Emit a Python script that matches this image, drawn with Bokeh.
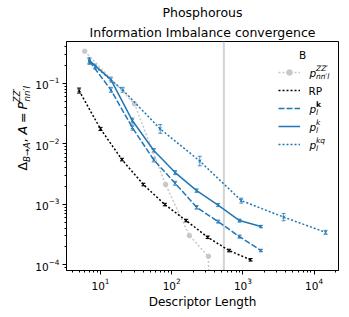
import math
from bokeh.plotting import figure
from bokeh.layouts import row
from bokeh.models import (Range1d, Span, Whisker, TeeHead, ColumnDataSource, Legend,
                          LegendItem, Label, Title, FixedTicker)
from bokeh.embed import file_html
from bokeh.resources import INLINE

# ---------------- data ----------------
zz_x = [6, 30, 82, 177, 328, 340]
zz_y = [0.338, 0.0457, 0.00212, 0.000304, 0.000138, 1e-6]

rp_x = [5, 10, 20, 40, 80, 160, 320, 640, 1280]
rp_y = [0.0757, 0.0176, 0.00548, 0.00212, 0.00099, 0.000538, 0.000285, 0.000172, 0.000121]
rp_err = [0.10, 0.06, 0.05, 0.05, 0.05, 0.05, 0.05, 0.05, 0.05]

pk_x = [7, 14, 28, 56, 112, 224, 448, 896, 1792]
pkb_y = [0.230, 0.0778, 0.0185, 0.00542, 0.00222, 0.00089, 0.000518, 0.000292, 0.000172]
pkb_err = [0.12, 0.10, 0.10, 0.08, 0.08, 0.07, 0.06, 0.06, 0.05]
pk_y = [0.237, 0.115, 0.0242, 0.00773, 0.00334, 0.00168, 0.00097, 0.000538, 0.000428]
pk_err = [0.12, 0.10, 0.10, 0.08, 0.08, 0.07, 0.06, 0.06, 0.05]

kq_x = [8.4, 20.5, 69, 248, 950, 3730, 14500]
kq_y = [0.189, 0.0778, 0.0176, 0.00518, 0.00115, 0.000614, 0.000344]
kq_err = [0.10, 0.10, 0.18, 0.20, 0.10, 0.15, 0.08]

cutoff = 540

x_major = [10, 100, 1000, 10000]
y_major = [1e-4, 1e-3, 1e-2, 1e-1]

BLUE = "#1f77b4"
GRAY = "#c8c8c8"
FONT = "DejaVu Sans"
DOT = "2 2"
DASH = "6 2"

WL = 32  # width of the strip holding the y-axis label
p = figure(width=349 - WL, height=317, x_axis_type="log", y_axis_type="log",
           x_range=Range1d(3.33, 22000), y_range=Range1d(8.05e-5, 0.49),
           output_backend="svg", toolbar_location=None, title=None,
           min_border_left=64 - WL, min_border_right=11, min_border_top=41, min_border_bottom=47)
p.xgrid.visible = False
p.ygrid.visible = False
p.outline_line_color = "black"
p.outline_line_width = 1
p.outline_line_alpha = 1

for t in ["Information Imbalance convergence", "Phosphorous"]:
    p.add_layout(Title(text=t, align="center", text_font=FONT, text_font_size="12.5px",
                       text_font_style="normal", text_color="black", standoff=3), "above")

x_minor = [m * 10 ** e for e in range(0, 5) for m in range(2, 10)]
y_minor = [m * 10 ** e for e in range(-5, 0) for m in range(2, 10)]
p.xaxis.ticker = FixedTicker(ticks=x_major, minor_ticks=x_minor)
p.yaxis.ticker = FixedTicker(ticks=y_major, minor_ticks=y_minor)
for ax in (p.xaxis, p.yaxis):
    ax.axis_line_color = "black"
    ax.major_tick_line_color = "black"
    ax.minor_tick_line_color = "black"
    ax.major_tick_in = 0
    ax.major_tick_out = 4
    ax.minor_tick_in = 0
    ax.minor_tick_out = 2
    ax.major_label_text_font = FONT
    ax.major_label_text_font_size = "10.5px"
    ax.major_label_text_color = "black"
    ax.major_label_standoff = 3
p.xaxis.axis_label = "Descriptor Length"
p.xaxis.axis_label_text_font = FONT
p.xaxis.axis_label_text_font_size = "12px"
p.xaxis.axis_label_text_font_style = "normal"
p.xaxis.axis_label_text_color = "black"
p.xaxis.axis_label_standoff = 2

p.add_layout(Span(location=cutoff, dimension="height", line_color="#d3d3d3",
                  line_width=2, level="underlay"))


def errsrc(x, y, e):
    return ColumnDataSource(dict(base=x, upper=[v * (1 + r) for v, r in zip(y, e)],
                                 lower=[v / (1 + r) for v, r in zip(y, e)]))


# gray p_nn'l^ZZ'
g_line = p.line(zz_x, zz_y, line_color=GRAY, line_width=1.5, line_dash=DOT)
g_mark = p.scatter(zz_x, zz_y, marker="circle", size=4.5, fill_color=GRAY, line_color=GRAY)

# RP
rp_line = p.line(rp_x, rp_y, line_color="black", line_width=1.5, line_dash=DOT)
p.scatter(rp_x, rp_y, marker="x", size=3.5, line_color="black", line_width=1)
p.add_layout(Whisker(source=errsrc(rp_x, rp_y, rp_err), base="base", upper="upper", lower="lower",
                     line_color="black", line_width=1,
                     upper_head=TeeHead(size=4, line_color="black"),
                     lower_head=TeeHead(size=4, line_color="black")))

series = [
    (pk_x, pkb_y, pkb_err, DASH),
    (pk_x, pk_y, pk_err, "solid"),
    (kq_x, kq_y, kq_err, DOT),
]
blue_lines = []
for xs, ys, es, dash in series:
    blue_lines.append(p.line(xs, ys, line_color=BLUE, line_width=1.5, line_dash=dash))
    p.scatter(xs, ys, marker="x", size=4, line_color=BLUE, line_width=1)
    p.add_layout(Whisker(source=errsrc(xs, ys, es), base="base", upper="upper", lower="lower",
                         line_color=BLUE, line_alpha=0.8, line_width=1,
                         upper_head=TeeHead(size=4, line_color=BLUE, line_alpha=0.8),
                         lower_head=TeeHead(size=4, line_color=BLUE, line_alpha=0.8)))

# legend glyphs (texts drawn as labels below)
PAD, GH, SP = 2, 14, 4
LX, LTOP = 210, 207
LH = 2 * PAD + 5 * GH + 4 * SP
legend = Legend(items=[LegendItem(label=" ", renderers=[g_line, g_mark]),
                       LegendItem(label=" ", renderers=[rp_line]),
                       LegendItem(label=" ", renderers=[blue_lines[0]]),
                       LegendItem(label=" ", renderers=[blue_lines[1]]),
                       LegendItem(label=" ", renderers=[blue_lines[2]])],
                location=(LX, LTOP - LH), orientation="vertical", padding=PAD, margin=0, spacing=SP,
                glyph_width=22, glyph_height=GH, label_height=GH, label_width=1, label_standoff=0,
                label_text_font_size="1px", border_line_alpha=0, background_fill_alpha=0)
p.add_layout(legend)

tx0 = LX + PAD + 22 + 9
centers = [LTOP - PAD - i * (GH + SP) - GH / 2 for i in range(5)]


def lab(fig, x, y, text, size, style="normal", align="left", angle=0.0, baseline="middle"):
    fig.add_layout(Label(x=x, y=y, x_units="screen", y_units="screen", text=text,
                         text_font=FONT, text_font_size=size, text_font_style=style,
                         text_align=align, text_baseline=baseline, text_color="black", angle=angle))


lab(p, LX + PAD + 24, LTOP + 9, "B", "10.5px", align="center")
rows = [("ZZ′", "italic", "nn′l"), None, ("k", "bold", "l"), ("k", "italic", "l"), ("kq", "italic", "l")]
for c, r in zip(centers, rows):
    if r is None:
        lab(p, tx0 - 1, c, "RP", "10.5px")
        continue
    sup, sstyle, sub = r
    lab(p, tx0, c, "p", "10.5px", "italic")
    lab(p, tx0 + 6.5, c + 4.5, sup, "7.5px", sstyle)
    lab(p, tx0 + 6.5, c - 4, sub, "7.5px", "italic")

# y axis label strip, composed piecewise (rotated)
q = figure(width=WL, height=317, x_range=Range1d(0, 1), y_range=Range1d(0, 1),
           output_backend="svg", toolbar_location=None, title=None,
           x_axis_location=None, y_axis_location=None, min_border=0)
q.outline_line_color = None
q.grid.visible = False

A = math.pi / 2
bx, subx, supx = 22, 26.5, 16.5
pieces = [
    (bx, "Δ", "12.5px", "normal", 8.6),
    (subx, "B→A", "8.75px", "italic", 19.3),
    (bx, ",", "12.5px", "normal", 8.0),
    (bx, "A", "12.5px", "italic", 11.5),
    (bx, "=", "12.5px", "normal", 13.5),
    (bx, "P", "12.5px", "italic", 7.0),
]
y = 317 - 217
for xx, txt, fs, st, w in pieces:
    lab(q, xx, y, txt, fs, st, angle=A)
    y += w
lab(q, supx, y, "ZZ′", "8.75px", "italic", angle=A)
lab(q, subx, y + 1, "nn′l", "8.75px", "italic", angle=A)

layout = row(q, p)
open("out.html", "w").write(file_html(layout, INLINE))
